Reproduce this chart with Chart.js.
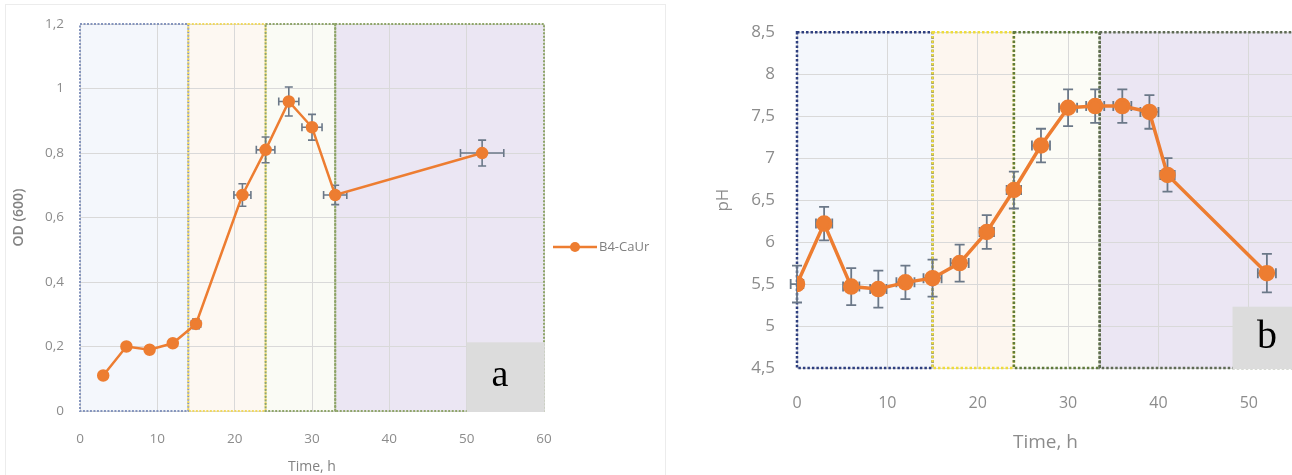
<!DOCTYPE html>
<html>
<head>
<meta charset="utf-8">
<script src="https://cdn.jsdelivr.net/npm/chart.js@4.4.0/dist/chart.umd.min.js"></script>
<style>
  html, body { margin: 0; padding: 0; background: #fff; }
  #wrap { position: relative; width: 1292px; height: 475px; overflow: hidden; }
  #cA { position: absolute; left: 0; top: 0; }
  #cB { position: absolute; left: 680px; top: 0; }
</style>
</head>
<body>
<div id="wrap">
  <canvas id="cA" width="680" height="475"></canvas>
  <canvas id="cB" width="624" height="475"></canvas>
</div>
<script>
// panel a: optical density
const timeA = [3, 6, 9, 12, 15, 21, 24, 27, 30, 33, 52];
const odA = [0.11, 0.20, 0.19, 0.21, 0.27, 0.67, 0.81, 0.96, 0.88, 0.67, 0.80];
const odErrA = [0, 0, 0, 0, 0.015, 0.035, 0.04, 0.045, 0.04, 0.03, 0.04];
const timeErrA = [0, 0, 0, 0, 0.6, 1.1, 1.2, 1.3, 1.3, 1.5, 2.8];

// panel b: pH
const timeB = [0, 3, 6, 9, 12, 15, 18, 21, 24, 27, 30, 33, 36, 39, 41, 52];
const phB = [5.5, 6.22, 5.47, 5.44, 5.52, 5.57, 5.75, 6.12, 6.62, 7.15, 7.6, 7.62, 7.62, 7.55, 6.8, 5.63];
const phErrB = [0.22, 0.2, 0.22, 0.22, 0.2, 0.22, 0.22, 0.2, 0.22, 0.2, 0.22, 0.2, 0.2, 0.2, 0.2, 0.23];
const timeErrB = [0.7, 0.9, 0.9, 0.9, 1, 1, 1, 0.8, 0.8, 1, 1, 1, 1, 1, 0.8, 1];

const seriesName = 'B4-CaUr';
const orange = '#ed7d31';
const tickGray = '#8c8c8c';

function commaFmt(v) {
  return String(Math.round(v * 10) / 10).replace('.', ',');
}

// background phases, error bars, letter box
function phasePlugin(cfg) {
  return {
    id: 'phases',
    beforeDraw(chart) {
      const { ctx, scales: { x, y } } = chart;
      ctx.save();
      if (cfg.frame) {
        ctx.strokeStyle = '#ececec';
        ctx.lineWidth = 1;
        ctx.strokeRect(cfg.frame[0], cfg.frame[1], cfg.frame[2], cfg.frame[3]);
      }
      cfg.bands.forEach(b => {
        const x0 = x.getPixelForValue(b.from), x1 = x.getPixelForValue(b.to);
        ctx.fillStyle = b.fill;
        ctx.fillRect(x0, y.top, x1 - x0, y.bottom - y.top);
      });
      ctx.restore();
    },
    beforeDatasetsDraw(chart) {
      const { ctx, scales: { x, y } } = chart;
      ctx.save();
      ctx.setLineDash(cfg.dash);
      ctx.lineWidth = cfg.bandLine;
      cfg.bands.forEach(b => {
        const x0 = x.getPixelForValue(b.from), x1 = x.getPixelForValue(b.to);
        ctx.strokeStyle = b.stroke;
        ctx.strokeRect(x0, y.top, x1 - x0, y.bottom - y.top);
      });
      ctx.setLineDash([]);
      // letter box
      const bx0 = x.getPixelForValue(cfg.box.x0), bx1 = Math.min(x.getPixelForValue(cfg.box.x1), chart.width);
      const by0 = y.getPixelForValue(cfg.box.y0), by1 = y.getPixelForValue(cfg.box.y1);
      ctx.fillStyle = '#dcdcdc';
      ctx.fillRect(bx0, by1, bx1 - bx0, by0 - by1 + 1);
      ctx.fillStyle = '#000';
      ctx.font = cfg.box.font;
      ctx.textAlign = 'center';
      ctx.textBaseline = 'middle';
      ctx.fillText(cfg.box.text, cfg.box.tx, cfg.box.ty);
      // error bars
      ctx.strokeStyle = '#6b7888';
      ctx.lineWidth = cfg.errLine;
      cfg.xs.forEach((t, i) => {
        const px = x.getPixelForValue(t), py = y.getPixelForValue(cfg.ys[i]);
        const ey = cfg.yErr[i], ex = cfg.xErr[i], c = cfg.cap;
        ctx.beginPath();
        if (ey > 0) {
          const top = y.getPixelForValue(cfg.ys[i] + ey), bot = y.getPixelForValue(cfg.ys[i] - ey);
          ctx.moveTo(px, top); ctx.lineTo(px, bot);
          ctx.moveTo(px - c, top); ctx.lineTo(px + c, top);
          ctx.moveTo(px - c, bot); ctx.lineTo(px + c, bot);
        }
        if (ex > 0) {
          const l = x.getPixelForValue(t - ex), r = x.getPixelForValue(t + ex);
          ctx.moveTo(l, py); ctx.lineTo(r, py);
          ctx.moveTo(l, py - c); ctx.lineTo(l, py + c);
          ctx.moveTo(r, py - c); ctx.lineTo(r, py + c);
        }
        ctx.stroke();
      });
      ctx.restore();
    },
    afterDraw(chart) {
      if (!cfg.legend) return;
      const { ctx } = chart;
      const L = cfg.legend;
      ctx.save();
      ctx.strokeStyle = orange;
      ctx.lineWidth = 2.5;
      ctx.beginPath();
      ctx.moveTo(L.x, L.y); ctx.lineTo(L.x + 44, L.y);
      ctx.stroke();
      ctx.fillStyle = orange;
      ctx.beginPath();
      ctx.arc(L.x + 22, L.y, 5, 0, Math.PI * 2);
      ctx.fill();
      ctx.fillStyle = '#7f7f7f';
      ctx.font = '13px "Open Sans"';
      ctx.textAlign = 'left';
      ctx.textBaseline = 'middle';
      ctx.fillText(seriesName, L.x + 46, L.y);
      ctx.restore();
    }
  };
}

new Chart(document.getElementById('cA'), {
  type: 'scatter',
  data: {
    datasets: [{
      label: seriesName,
      data: timeA.map((t, i) => ({ x: t, y: odA[i] })),
      showLine: true,
      borderColor: orange,
      backgroundColor: orange,
      borderWidth: 2.5,
      pointRadius: 5,
      pointHoverRadius: 5,
      tension: 0
    }]
  },
  options: {
    responsive: false,
    animation: false,
    events: [],
    layout: { padding: { left: 0, right: 136, top: 23, bottom: 0 } },
    plugins: { legend: { display: false }, tooltip: { enabled: false } },
    scales: {
      x: {
        type: 'linear', min: 0, max: 60,
        ticks: { stepSize: 10, padding: 20, color: tickGray, font: { family: 'Open Sans', size: 13.5 } },
        grid: { color: '#d9d9d9', drawTicks: false },
        border: { display: false },
        title: { display: true, text: 'Time, h', color: '#828282', font: { family: 'Open Sans', size: 14 }, padding: 0 },
        afterFit(s) { s.height = 64; }
      },
      y: {
        min: 0, max: 1.2,
        ticks: { stepSize: 0.2, padding: 16, color: tickGray, font: { family: 'Open Sans', size: 13.5 }, callback: v => commaFmt(v) },
        grid: { color: '#d9d9d9', drawTicks: false },
        border: { display: false },
        title: { display: true, text: 'OD (600)', color: '#828282', font: { family: 'Open Sans', size: 14, weight: '600' }, padding: { top: 11, bottom: 0 } },
        afterFit(s) { s.width = 80; }
      }
    }
  },
  plugins: [phasePlugin({
    frame: [5.5, 4.5, 660, 480],
    bands: [
      { from: 0, to: 14, fill: '#f4f7fc', stroke: '#8595bd' },
      { from: 14, to: 24, fill: '#fdf8f2', stroke: '#f0d860' },
      { from: 24, to: 33, fill: '#fafbf5', stroke: '#8fa56a' },
      { from: 33, to: 60, fill: '#ebe6f3', stroke: '#8fa56a' }
    ],
    dash: [2, 1.5], bandLine: 2,
    box: { x0: 50, x1: 60.1, y0: 0, y1: 0.213, text: 'a', font: '38px "Liberation Serif"', tx: 500, ty: 376 },
    xs: timeA, ys: odA, yErr: odErrA, xErr: timeErrA,
    errLine: 1.6, cap: 4,
    legend: { x: 553, y: 247 }
  })]
});

new Chart(document.getElementById('cB'), {
  type: 'scatter',
  data: {
    datasets: [{
      label: seriesName,
      data: timeB.map((t, i) => ({ x: t, y: phB[i] })),
      showLine: true,
      borderColor: orange,
      backgroundColor: orange,
      borderWidth: 3.5,
      pointRadius: 6.5,
      pointHoverRadius: 6.5,
      tension: 0
    }]
  },
  options: {
    responsive: false,
    animation: false,
    events: [],
    layout: { padding: { left: 0, right: 0, top: 32, bottom: 0 } },
    plugins: { legend: { display: false }, tooltip: { enabled: false } },
    scales: {
      x: {
        type: 'linear', min: 0, max: 55,
        ticks: { stepSize: 10, includeBounds: false, padding: 26, color: tickGray, font: { family: 'Open Sans', size: 16 } },
        grid: { color: '#d9d9d9', drawTicks: false },
        border: { display: false },
        title: { display: true, text: 'Time, h', color: tickGray, font: { family: 'Open Sans', size: 19 }, padding: { top: 0, bottom: 21 } },
        afterFit(s) { s.height = 107; }
      },
      y: {
        min: 4.5, max: 8.5,
        ticks: { stepSize: 0.5, padding: 22, color: tickGray, font: { family: 'Open Sans', size: 17 }, callback: v => commaFmt(v) },
        grid: { color: '#d9d9d9', drawTicks: false },
        border: { display: false },
        title: { display: true, text: 'pH', color: tickGray, font: { family: 'Open Sans', size: 17 }, padding: { top: 33, bottom: 0 } },
        afterFit(s) { s.width = 117; }
      }
    }
  },
  plugins: [phasePlugin({
    frame: null,
    bands: [
      { from: 0, to: 15, fill: '#f4f7fc', stroke: '#2e3f7f' },
      { from: 15, to: 24, fill: '#fdf6ef', stroke: '#eedc3c' },
      { from: 24, to: 33.5, fill: '#fcfcf6', stroke: '#5f7a3c' },
      { from: 33.5, to: 57, fill: '#ebe6f3', stroke: '#5f6a55' }
    ],
    dash: [2.5, 2], bandLine: 2.5,
    box: { x0: 48.2, x1: 60, y0: 4.5, y1: 5.23, text: 'b', font: '40px "Liberation Serif"', tx: 587, ty: 337 },
    xs: timeB, ys: phB, yErr: phErrB, xErr: timeErrB,
    errLine: 1.8, cap: 5,
    legend: null
  })]
});
</script>
</body>
</html>
